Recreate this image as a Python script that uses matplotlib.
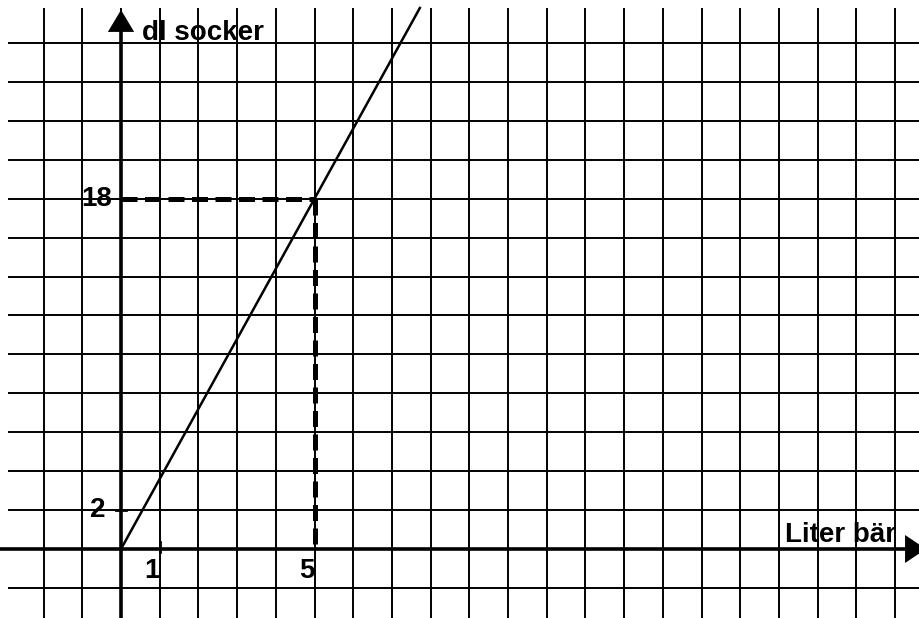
import matplotlib
matplotlib.use("Agg")
import matplotlib.pyplot as plt
import numpy as np

# grid positions (data units)
x_grid = list(range(-2, 21))
y_grid = list(range(-2, 27, 2))

# known point on the proportional line: 5 liter bär -> 18 dl socker
liter_point = 5
socker_point = 18

# labelled ticks
x_tick_vals = [1, 5]
x_tick_labels = ["1", "5"]
y_tick_vals = [2, 18]
y_tick_labels = ["2", "18"]

x_label = "Liter bär"
y_label = "dl socker"

# view limits, chosen so the grid lines land where they do in the picture
XMIN, XMAX = -3.127, 20.646
YMIN, YMAX = -3.546, 28.21
GRID_TOP = 27.8      # vertical grid lines stop a little below the top edge
GRID_LEFT = -2.92    # horizontal grid lines start a little right of the left edge

fig = plt.figure(figsize=(9.2, 6.18), dpi=100)
ax = fig.add_axes([0, 0, 1, 1])
ax.set_xlim(XMIN, XMAX)
ax.set_ylim(YMIN, YMAX)
ax.axis("off")

# square grid
ax.vlines(x_grid, YMIN, GRID_TOP, colors="black", lw=1.4, zorder=1)
ax.hlines(y_grid, GRID_LEFT, XMAX, colors="black", lw=1.4, zorder=1)

# axes
ax.plot([0, 0], [YMIN, 26.8], color="black", lw=2.6, zorder=3,
        solid_capstyle="butt")
ax.plot([XMIN, 20.4], [0, 0], color="black", lw=2.6, zorder=3,
        solid_capstyle="butt")
# arrow heads
ax.fill([-0.34, 0.34, 0], [26.57, 26.57, 27.7], color="black", zorder=4,
        lw=0)
ax.fill([20.26, 20.26, 20.8], [-0.72, 0.72, 0], color="black", zorder=4,
        lw=0)

# proportional line through origin, extended to the top of the grid
slope = socker_point / liter_point
line_x = np.array([0, GRID_TOP / slope])
ax.plot(line_x, slope * line_x, color="black", lw=1.8, zorder=5)

# dashed helper lines to the read-off point
dash = (0, (3.2, 1.5))
ax.plot([0, liter_point], [socker_point, socker_point], color="black",
        lw=3.6, ls=dash, zorder=4)
ax.plot([liter_point, liter_point], [socker_point, 0], color="black",
        lw=3.6, ls=dash, zorder=4)

# small tick marks
ax.plot([-0.13, 0.13], [y_tick_vals[0]] * 2, color="black", lw=2.0, zorder=4)
ax.plot([x_tick_vals[0]] * 2, [-0.15, 0.35], color="black", lw=2.0, zorder=4)

font = dict(family=["Liberation Sans", "DejaVu Sans"], fontweight="bold",
            fontsize=20, color="black")
for xv, lab in zip(x_tick_vals, x_tick_labels):
    ax.text(xv - 0.2, -1.15, lab, ha="center", va="center", zorder=6, **font)
for yv, lab in zip(y_tick_vals, y_tick_labels):
    ax.text(-0.22 if yv > 9 else -0.4, yv, lab, ha="right", va="center",
            zorder=6, **font)

ax.text(0.54, 26.16, y_label, ha="left", va="baseline", zorder=6, **font)
ax.text(17.16, 0.36, x_label, ha="left", va="baseline", zorder=6, **font)

fig.savefig("out.png", dpi=100, facecolor="white")
